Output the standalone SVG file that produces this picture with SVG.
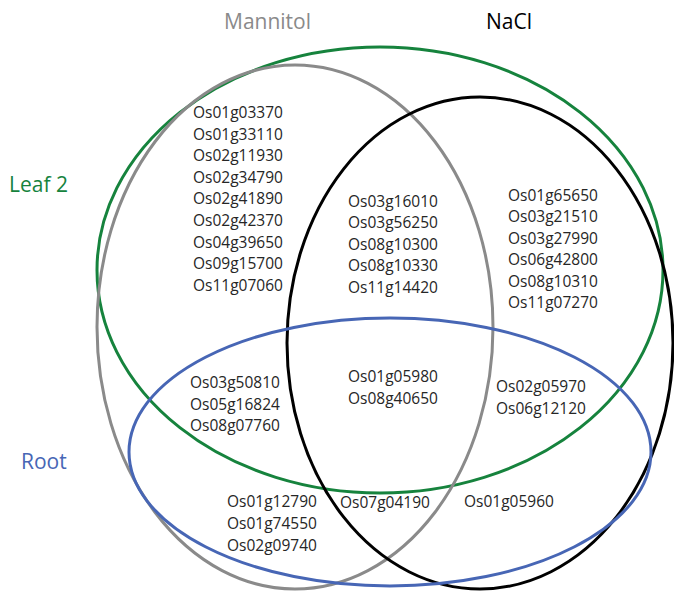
<svg xmlns="http://www.w3.org/2000/svg" width="674" height="592" viewBox="0 0 674 592">
<style>
.set{fill:none;stroke-width:3}
.g{font-family:"Open Sans","Liberation Sans",sans-serif;font-size:15.5px;fill:#262626}
.lbl{font-family:"Open Sans","Liberation Sans",sans-serif;font-size:21px}
</style>
<rect width="674" height="592" fill="#fff"/>
<g id="sets">
<g id="leaf2"><ellipse class="set" cx="380" cy="270" rx="283" ry="223" stroke="#16833d"/></g>
<g id="mannitol"><ellipse class="set" cx="295" cy="327" rx="198" ry="262" stroke="#8a8a8a"/></g>
<g id="nacl"><ellipse class="set" cx="480" cy="343" rx="193" ry="246" stroke="#000"/></g>
<g id="root"><ellipse class="set" cx="390" cy="452" rx="261" ry="134" stroke="#4766b5"/></g>
</g>
<g id="labels">
<text class="lbl" x="224" y="29" fill="#8a8a8a">Mannitol</text>
<text class="lbl" x="486" y="29" fill="#000">NaCl</text>
<text class="lbl" x="9" y="192" fill="#16833d">Leaf 2</text>
<text class="lbl" x="21" y="469" fill="#4766b5">Root</text>
</g>
<g id="leaf-mannitol-only" class="g">
<text x="193" y="118">Os01g03370</text>
<text x="193" y="139.6">Os01g33110</text>
<text x="193" y="161.2">Os02g11930</text>
<text x="193" y="182.8">Os02g34790</text>
<text x="193" y="204.4">Os02g41890</text>
<text x="193" y="226">Os02g42370</text>
<text x="193" y="247.6">Os04g39650</text>
<text x="193" y="269.2">Os09g15700</text>
<text x="193" y="290.8">Os11g07060</text>
</g>
<g id="leaf-mannitol-nacl" class="g">
<text x="348" y="207">Os03g16010</text>
<text x="348" y="228.4">Os03g56250</text>
<text x="348" y="249.8">Os08g10300</text>
<text x="348" y="271.2">Os08g10330</text>
<text x="348" y="292.6">Os11g14420</text>
</g>
<g id="leaf-nacl-only" class="g">
<text x="508" y="201">Os01g65650</text>
<text x="508" y="222.4">Os03g21510</text>
<text x="508" y="243.8">Os03g27990</text>
<text x="508" y="265.2">Os06g42800</text>
<text x="508" y="286.6">Os08g10310</text>
<text x="508" y="308">Os11g07270</text>
</g>
<g id="leaf-root-mannitol" class="g">
<text x="190" y="388">Os03g50810</text>
<text x="190" y="409.5">Os05g16824</text>
<text x="190" y="431">Os08g07760</text>
</g>
<g id="all-four" class="g">
<text x="348" y="382">Os01g05980</text>
<text x="348" y="403.5">Os08g40650</text>
</g>
<g id="leaf-root-nacl" class="g">
<text x="496" y="392">Os02g05970</text>
<text x="496" y="413.5">Os06g12120</text>
</g>
<g id="root-mannitol" class="g">
<text x="227" y="507">Os01g12790</text>
<text x="227" y="529">Os01g74550</text>
<text x="227" y="551">Os02g09740</text>
</g>
<g id="root-mannitol-nacl" class="g"><text x="340" y="508">Os07g04190</text></g>
<g id="root-nacl" class="g"><text x="464" y="507">Os01g05960</text></g>
</svg>
